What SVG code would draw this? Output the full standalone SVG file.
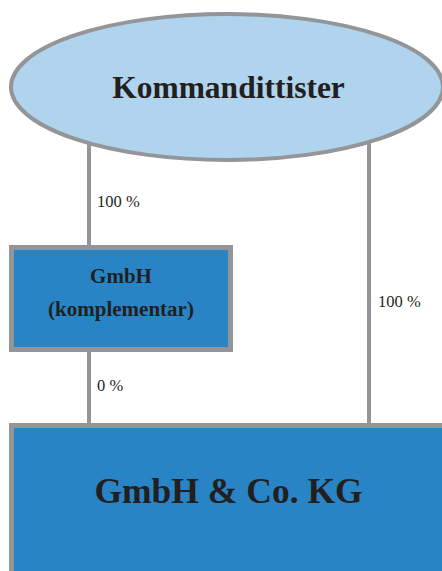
<svg xmlns="http://www.w3.org/2000/svg" width="442" height="571" viewBox="0 0 442 571">
<style>
.ln{stroke:#939598;stroke-width:4;fill:none}
.node{stroke:#939598;stroke-width:5}
.t{font-family:"Liberation Serif","Times New Roman",serif;fill:#231f20}
.b{font-weight:bold}
.lbl{font-size:16.5px}
</style>
<rect width="442" height="571" fill="#ffffff"/>
<g id="connectors">
<line class="ln" x1="89" y1="110" x2="89" y2="247"/>
<line class="ln" x1="89" y1="350" x2="89" y2="426"/>
<line class="ln" x1="369" y1="110" x2="369" y2="426"/>
<text class="t lbl" x="97" y="207">100 %</text>
<text class="t lbl" x="97" y="391">0 %</text>
<text class="t lbl" x="378" y="307">100 %</text>
</g>
<g id="kommandittister">
<ellipse cx="227" cy="87" rx="216" ry="73" fill="#b0d4ee" stroke="#939598" stroke-width="4"/>
<text class="t b" x="228.5" y="98" font-size="31.5" text-anchor="middle">Kommandittister</text>
</g>
<g id="gmbh">
<rect class="node" x="11.5" y="247.5" width="219" height="102" fill="#2884c4"/>
<text class="t b" x="121" y="283" font-size="21" text-anchor="middle">GmbH</text>
<text class="t b" x="121" y="316" font-size="21" text-anchor="middle">(komplementar)</text>
</g>
<g id="kg">
<rect class="node" x="11.5" y="425.5" width="440" height="150" fill="#2884c4"/>
<text class="t b" x="228.5" y="503" font-size="35.5" text-anchor="middle">GmbH &amp; Co. KG</text>
</g>
</svg>
